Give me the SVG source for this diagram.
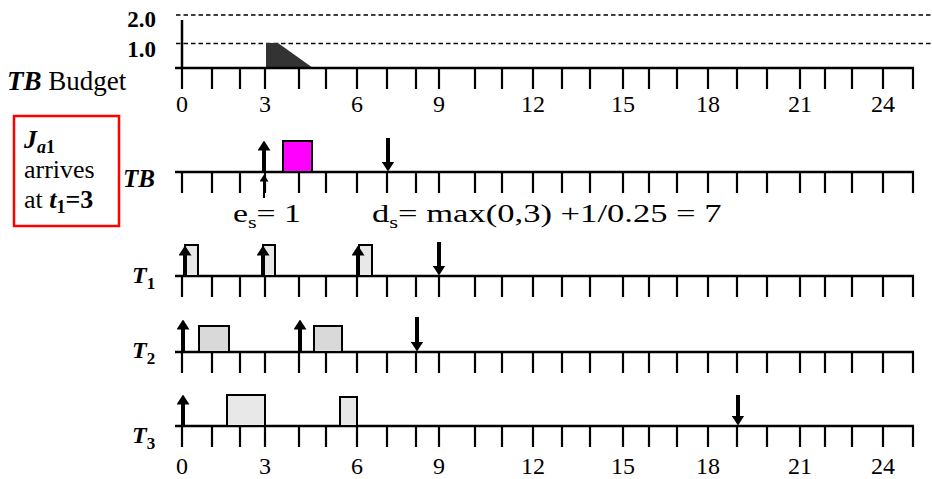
<svg xmlns="http://www.w3.org/2000/svg" xmlns:xlink="http://www.w3.org/1999/xlink" width="932" height="479" viewBox="0 0 932 479" font-family="'Liberation Serif', Tinos, 'Times New Roman', serif">
<style>
.axis{stroke:#000;stroke-width:2.5;fill:none}
.tick{stroke:#000;stroke-width:2.2;fill:none}
.dash{stroke:#000;stroke-width:1.6;stroke-dasharray:4.5 3;fill:none}
.num{font-size:24px;text-anchor:middle;fill:#000}
.lbl{fill:#000}
.bi{font-weight:bold;font-style:italic}
.b{font-weight:bold}
.job{stroke:#000;stroke-width:2}
.arr{stroke:#000;stroke-width:4;fill:none}
.arrs{stroke:#000;stroke-width:2;fill:none}
</style>
<defs>
<path id="ticks" class="tick" d="M182,0v21M212,0v21M240,0v21M265,0v21M299,0v21M326,0v21M357,0v21M387,0v21M416,0v21M439,0v21M475,0v21M502,0v21M533,0v21M562,0v21M590,0v21M623,0v21M649,0v21M677,0v21M708,0v21M737,0v21M767,0v21M800,0v21M825,0v21M852,0v21M883,0v21M913,0v21"/>
<marker id="ah" markerUnits="userSpaceOnUse" markerWidth="10" markerHeight="13" refX="0.5" refY="6.5" orient="auto"><path d="M0,0 L10,6.5 L0,13 z" fill="#000"/></marker>
<marker id="ahs" markerUnits="userSpaceOnUse" markerWidth="7" markerHeight="9" refX="0.5" refY="4.5" orient="auto"><path d="M0,0 L7,4.5 L0,9 z" fill="#000"/></marker>
</defs>

<g id="budget">
<path class="dash" d="M176,15H932M176,43.5H932"/>
<path class="axis" d="M182,20V68"/>
<polygon points="266,43 278,43 313,68 266,68" fill="#333"/>
<path class="axis" d="M175,68H914"/>
<use xlink:href="#ticks" href="#ticks" y="68"/>
<text class="lbl b" x="156" y="27" font-size="23" text-anchor="end">2.0</text>
<text class="lbl b" x="156" y="57" font-size="23" text-anchor="end">1.0</text>
<text class="lbl" x="7" y="90" font-size="27"><tspan class="bi">TB</tspan> Budget</text>
<g class="num">
<text x="182" y="112">0</text><text x="265" y="112">3</text><text x="357" y="112">6</text><text x="439" y="112">9</text><text x="533" y="112">12</text><text x="623" y="112">15</text><text x="708" y="112">18</text><text x="800" y="112">21</text><text x="883" y="112">24</text>
</g>
</g>

<g id="arrival-box">
<rect x="14" y="116" width="105" height="110" fill="none" stroke="#f00" stroke-width="2.5"/>
<text class="lbl" x="24" y="148" font-size="26"><tspan class="bi">J</tspan><tspan dy="5" font-size="18" class="bi">a</tspan><tspan font-size="18" class="b">1</tspan></text>
<text class="lbl" x="24" y="178" font-size="26">arrives</text>
<text class="lbl" x="24" y="208" font-size="26">at <tspan class="bi">t</tspan><tspan dy="5" font-size="18" class="b">1</tspan><tspan dy="-5" class="b">=3</tspan></text>
</g>

<g id="row-TB">
<path class="axis" d="M175,172H914"/>
<use xlink:href="#ticks" href="#ticks" y="172"/>
<rect class="job" x="283" y="141" width="29" height="31" fill="#ff00ff"/>
<text class="lbl bi" x="123" y="187" font-size="25">TB</text>
<text class="lbl" font-size="26" transform="translate(233,222) scale(1.3,1)">e<tspan dy="6" font-size="17">s</tspan><tspan dy="-6">= 1</tspan></text>
<text class="lbl" font-size="26" transform="translate(372,222) scale(1.33,1)">d<tspan dy="6" font-size="17">s</tspan><tspan dy="-6">= max(0,3) +1/0.25 = 7</tspan></text>
</g>

<g id="row-T1">
<path class="axis" d="M175,276H914"/>
<use xlink:href="#ticks" href="#ticks" y="276"/>
<rect class="job" x="185" y="245" width="13" height="31" fill="#e8e8e8"/>
<rect class="job" x="263" y="245" width="12" height="31" fill="#e8e8e8"/>
<rect class="job" x="359" y="245" width="13" height="31" fill="#e8e8e8"/>
<text class="lbl bi" x="132" y="283" font-size="24">T<tspan dy="6" font-size="17" class="b" font-style="normal">1</tspan></text>
</g>

<g id="row-T2">
<path class="axis" d="M175,352H914"/>
<use xlink:href="#ticks" href="#ticks" y="352"/>
<rect class="job" x="199" y="326" width="30" height="26" fill="#d9d9d9"/>
<rect class="job" x="314" y="326" width="28" height="26" fill="#d9d9d9"/>
<text class="lbl bi" x="132" y="358" font-size="24">T<tspan dy="6" font-size="17" class="b" font-style="normal">2</tspan></text>
</g>

<g id="row-T3">
<path class="axis" d="M175,426H914"/>
<use xlink:href="#ticks" href="#ticks" y="426"/>
<rect class="job" x="227" y="395" width="38" height="31" fill="#e8e8e8"/>
<rect class="job" x="340" y="397" width="17" height="29" fill="#e8e8e8"/>
<text class="lbl bi" x="132" y="443" font-size="24">T<tspan dy="6" font-size="17" class="b" font-style="normal">3</tspan></text>
<g class="num">
<text x="182" y="474">0</text><text x="265" y="474">3</text><text x="357" y="474">6</text><text x="439" y="474">9</text><text x="533" y="474">12</text><text x="623" y="474">15</text><text x="708" y="474">18</text><text x="800" y="474">21</text><text x="883" y="474">24</text>
</g>
</g>

<g id="connectors">
<line class="arr" x1="264" y1="172" x2="264" y2="150" marker-end="url(#ah)"/>
<line class="arrs" x1="264" y1="198" x2="264" y2="181" marker-end="url(#ahs)"/>
<line class="arr" x1="388" y1="138" x2="388" y2="162" marker-end="url(#ah)"/>
<line class="arr" x1="185" y1="276" x2="185" y2="255" marker-end="url(#ah)"/>
<line class="arr" x1="263" y1="276" x2="263" y2="255" marker-end="url(#ah)"/>
<line class="arr" x1="358" y1="276" x2="358" y2="255" marker-end="url(#ah)"/>
<line class="arr" x1="439" y1="242" x2="439" y2="266" marker-end="url(#ah)"/>
<line class="arr" x1="183" y1="352" x2="183" y2="329" marker-end="url(#ah)"/>
<line class="arr" x1="300" y1="352" x2="300" y2="329" marker-end="url(#ah)"/>
<line class="arr" x1="417" y1="317" x2="417" y2="342" marker-end="url(#ah)"/>
<line class="arr" x1="183" y1="426" x2="183" y2="404" marker-end="url(#ah)"/>
<line class="arr" x1="738" y1="395" x2="738" y2="416" marker-end="url(#ah)"/>
</g>
</svg>
